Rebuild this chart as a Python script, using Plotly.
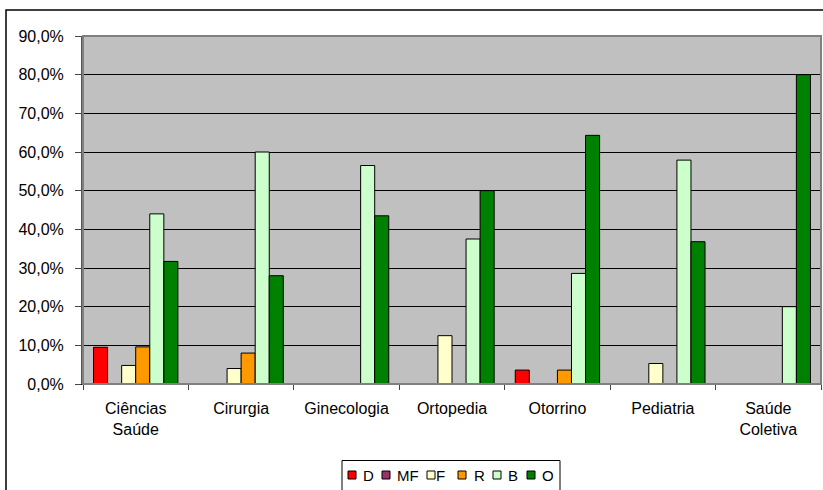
import plotly.graph_objects as go

categories = ["Ciências<br>Saúde", "Cirurgia", "Ginecologia", "Ortopedia",
              "Otorrino", "Pediatria", "Saúde<br>Coletiva"]

series_names = ["D", "MF", "F", "R", "B", "O"]
D = [0.095, 0, 0, 0, 0.036, 0, 0]
MF = [0, 0, 0, 0, 0, 0, 0]
F = [0.048, 0.04, 0, 0.125, 0, 0.053, 0]
R = [0.096, 0.08, 0, 0, 0.036, 0, 0]
B = [0.44, 0.60, 0.565, 0.375, 0.286, 0.579, 0.20]
O = [0.317, 0.28, 0.435, 0.50, 0.643, 0.368, 0.80]
series_values = [D, MF, F, R, B, O]
colors = ["#FF0000", "#993366", "#FFFFCC", "#FF9900", "#CCFFCC", "#008000"]

ytick_vals = [0, 0.1, 0.2, 0.3, 0.4, 0.5, 0.6, 0.7, 0.8, 0.9]

fig = go.Figure()
for name, vals, col in zip(series_names, series_values, colors):
    fig.add_trace(go.Bar(
        x=categories, y=[v if v else None for v in vals], name=name,
        marker=dict(color=col, line=dict(color="black", width=1)),
        showlegend=False,
    ))

W, H = 823, 490
L, R_, T, Bm = 83, 2, 36, 106
pw, ph = W - L - R_, H - T - Bm


def px_x(px):
    return (px - L) / pw


def px_y(py):
    return (H - Bm - py) / ph


shapes = [
    # plot area border
    dict(type="rect", xref="paper", yref="paper", x0=0, y0=0, x1=1, y1=1,
         line=dict(color="#808080", width=2), layer="above"),
    # outer chart frame
    dict(type="rect", xref="paper", yref="paper",
         x0=px_x(6), y0=px_y(500), x1=px_x(830), y1=px_y(10),
         line=dict(color="black", width=1.5), layer="below"),
    # legend box
    dict(type="rect", xref="paper", yref="paper",
         x0=px_x(342), y0=px_y(500), x1=px_x(560), y1=px_y(460.5),
         line=dict(color="black", width=1), fillcolor="white", layer="below"),
]
annotations = []

# custom compact legend (Excel style)
sym_x = [348, 382, 427, 458, 493, 527]
txt_x = [362, 396, 435, 473, 507, 541]
for name, col, sx, tx in zip(series_names, colors, sym_x, txt_x):
    shapes.append(dict(type="rect", xref="paper", yref="paper",
                       x0=px_x(sx), x1=px_x(sx + 8), y0=px_y(479), y1=px_y(471),
                       line=dict(color="black", width=1), fillcolor=col))
    annotations.append(dict(xref="paper", yref="paper", x=px_x(tx), y=px_y(475),
                            xanchor="left", yanchor="middle", showarrow=False,
                            text=name, font=dict(size=15, color="black"),
                            borderpad=0))

fig.update_layout(
    width=W, height=H,
    margin=dict(l=L, r=R_, t=T, b=Bm, pad=0),
    paper_bgcolor="white",
    plot_bgcolor="#C0C0C0",
    separators=", ",
    barmode="group",
    bargap=0.2,
    bargroupgap=0,
    font=dict(family="Liberation Sans, Arial, sans-serif", size=16, color="black"),
    showlegend=False,
    xaxis=dict(
        type="category",
        showgrid=False,
        showline=True, linecolor="black", linewidth=1,
        ticks="outside", ticklen=5, tickcolor="#444444",
        tickson="boundaries",
        ticklabelstandoff=10,
        tickfont=dict(size=16),
    ),
    yaxis=dict(
        range=[0, 0.9],
        tickvals=ytick_vals,
        tickformat=".1%",
        showgrid=True, gridcolor="black", gridwidth=1,
        showline=True, linecolor="#555555", linewidth=2,
        ticks="outside", ticklen=6, tickcolor="#444444",
        ticklabelstandoff=8,
        tickfont=dict(size=16),
        zeroline=False,
    ),
    shapes=shapes,
    annotations=annotations,
)

fig.write_html("out.html", config={"displayModeBar": False},
               post_script="document.body.style.margin='0';")
